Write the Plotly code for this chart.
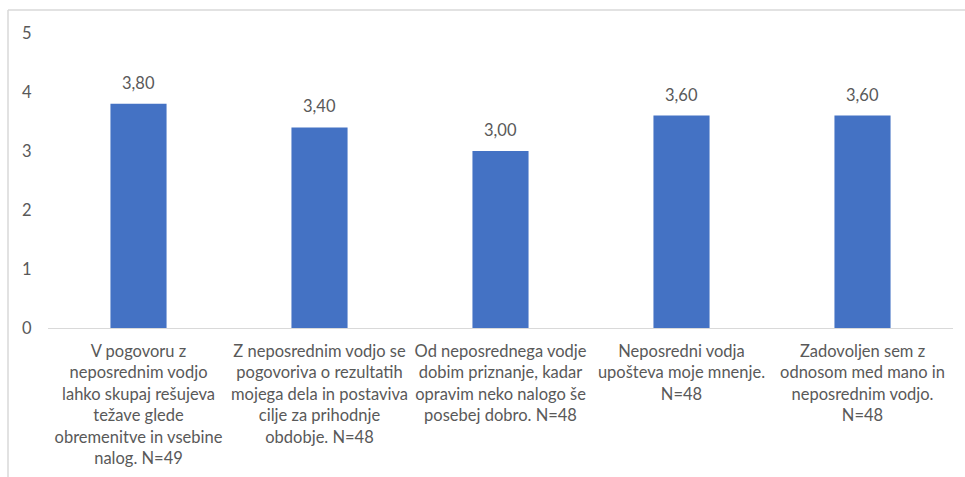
import plotly.graph_objects as go

categories = [
    "V pogovoru z<br>neposrednim vodjo<br>lahko skupaj rešujeva<br>težave glede<br>obremenitve in vsebine<br>nalog. N=49",
    "Z neposrednim vodjo se<br>pogovoriva o rezultatih<br>mojega dela in postaviva<br>cilje za prihodnje<br>obdobje. N=48",
    "Od neposrednega vodje<br>dobim priznanje, kadar<br>opravim neko nalogo še<br>posebej dobro. N=48",
    "Neposredni vodja<br>upošteva moje mnenje.<br>N=48",
    "Zadovoljen sem z<br>odnosom med mano in<br>neposrednim vodjo.<br>N=48",
]
values = [3.80, 3.40, 3.00, 3.60, 3.60]
y_ticks = [0, 1, 2, 3, 4, 5]

FONT = "Lato"
GREY = "#595959"

xs = list(range(len(categories)))
fig = go.Figure(go.Bar(
    x=xs,
    y=values,
    marker=dict(color="#4472C4", line=dict(width=0)),
    width=0.31,
))

for x, v in zip(xs, values):
    fig.add_annotation(
        x=x, y=v, xref="x", yref="y",
        text=f"{v:.2f}".replace(".", ","),
        showarrow=False, yanchor="bottom", yshift=9,
        font=dict(family=FONT, size=16.5, color=GREY),
    )

L, T, W, H = 48, 33, 965, 477
PW, PH = 905, 295
fig.update_layout(
    width=W, height=H,
    margin=dict(l=L, r=W - L - PW, t=T, b=H - T - PH, autoexpand=False),
    paper_bgcolor="white", plot_bgcolor="white",
    showlegend=False,
    font=dict(family=FONT, size=16.5, color=GREY),
    xaxis=dict(
        tickmode="array",
        tickvals=xs,
        ticktext=categories,
        tickangle=0,
        automargin=False,
        range=[-0.5, 4.5],
        showgrid=False,
        showline=True, linecolor="#D9D9D9", linewidth=1,
        ticks="outside", ticklen=8, tickcolor="rgba(0,0,0,0)",
        tickfont=dict(family=FONT, size=16.5, color=GREY),
        zeroline=False,
    ),
    yaxis=dict(
        range=[0, 5],
        automargin=False,
        tickmode="array", tickvals=y_ticks,
        showgrid=False, zeroline=False, showline=False,
        ticks="outside", ticklen=12, tickcolor="rgba(0,0,0,0)",
        tickfont=dict(family=FONT, size=16.5, color=GREY),
    ),
)

def px_x(p):
    return (p - L) / PW

def px_y(p):
    return (T + PH - p) / PH

fig.add_shape(type="line", xref="paper", yref="paper",
              x0=px_x(8), x1=px_x(970), y0=px_y(10), y1=px_y(10),
              line=dict(color="#D9D9D9", width=1.5))
fig.add_shape(type="line", xref="paper", yref="paper",
              x0=px_x(8), x1=px_x(8), y0=px_y(10), y1=px_y(480),
              line=dict(color="#D9D9D9", width=1.5))

fig.write_html("out.html", config={"displayModeBar": False},
               post_script="document.body.style.margin='0';document.body.style.overflow='hidden';")
